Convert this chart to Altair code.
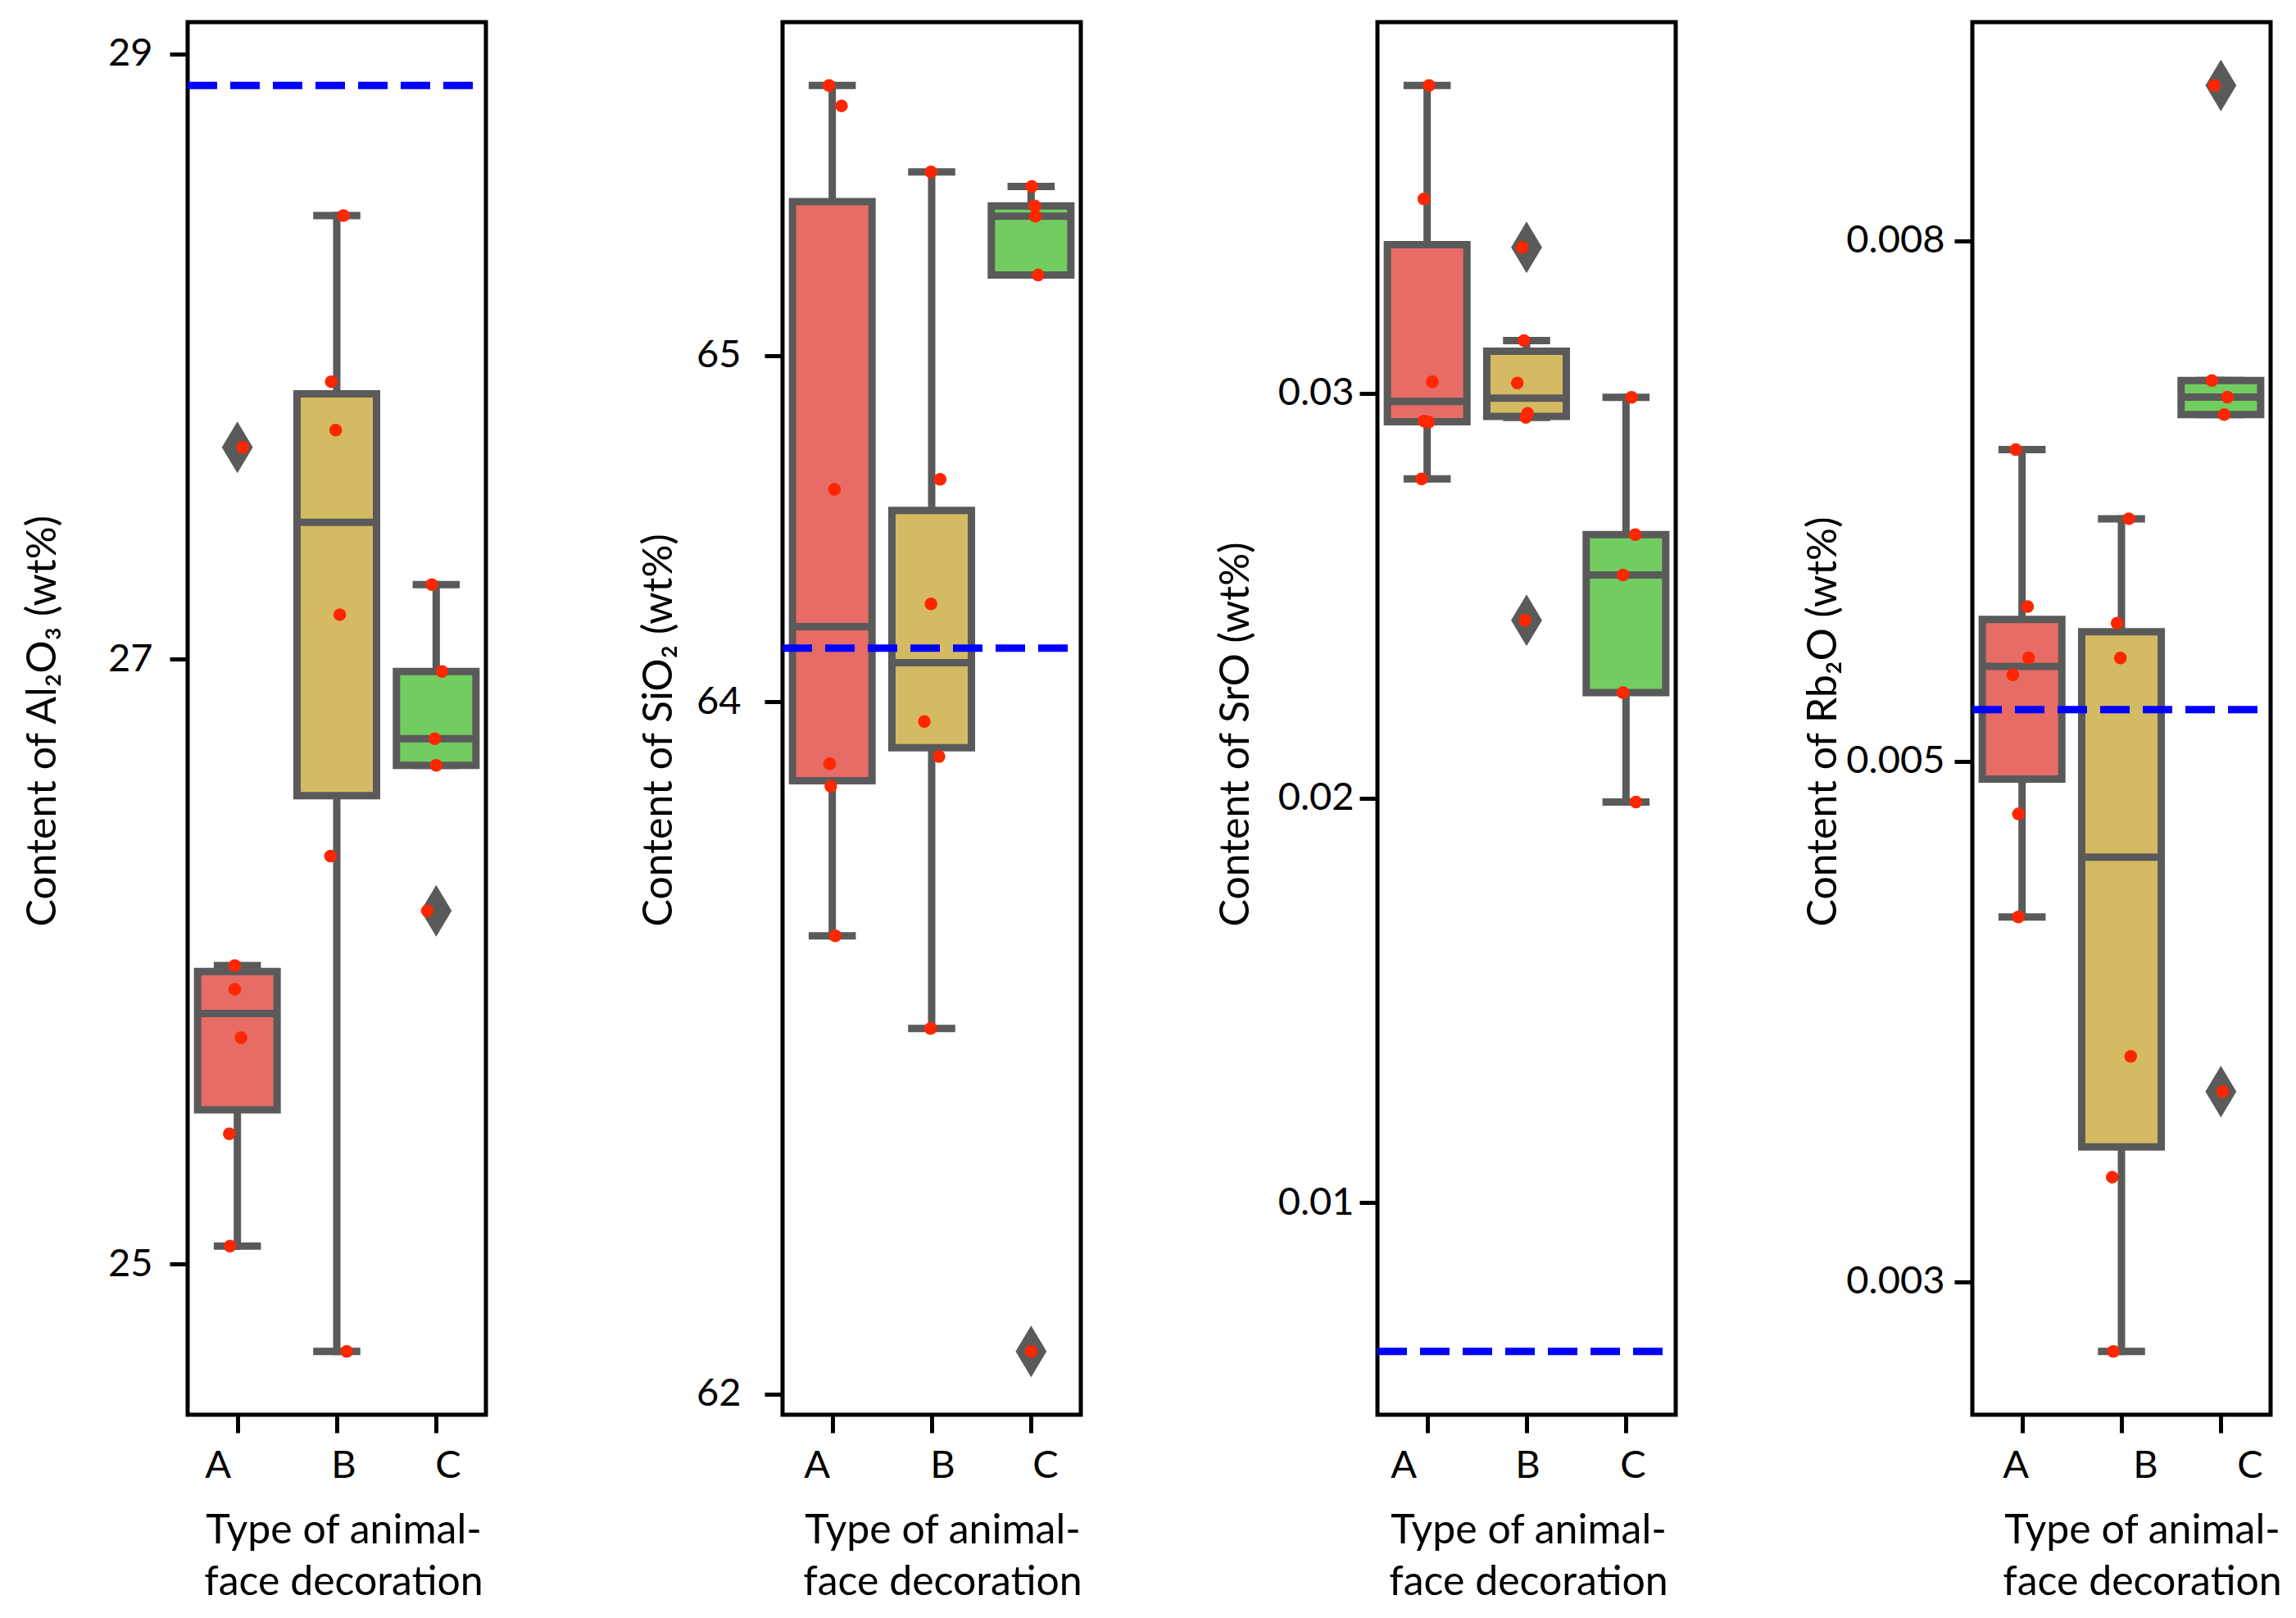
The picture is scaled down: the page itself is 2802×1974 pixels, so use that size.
import altair as alt
import pandas as pd

# ---------------- data ----------------
groups = ["A", "B", "C"]
fill_colors = ["#e66c65", "#d4ba62", "#72cd60"]

# Al2O3
al2o3_A = [27.70, 25.987, 25.909, 25.749, 25.431, 25.060]
al2o3_B = [28.466, 27.917, 27.757, 27.147, 26.349, 24.712]
al2o3_C = [27.246, 26.959, 26.737, 26.649, 26.168]
al2o3_ref = 28.896
# SiO2
sio2_A = [65.781, 65.722, 64.614, 63.821, 63.756, 63.324]
sio2_B = [65.531, 64.643, 64.283, 63.943, 63.842, 63.056]
sio2_C = [65.489, 65.433, 65.403, 65.233, 62.123]
sio2_ref = 64.155
# SrO
sro_A = [0.037602, 0.034796, 0.030281, 0.029311, 0.029286, 0.027883]
sro_B = [0.0336, 0.0313, 0.03025, 0.0295, 0.0294, 0.024388]
sro_C = [0.029898, 0.026505, 0.02551, 0.022602, 0.019898]
sro_ref = 0.006327
# Rb2O
rb2o_A = [0.006497, 0.005743, 0.005496, 0.005416, 0.004747, 0.004252]
rb2o_B = [0.006165, 0.005664, 0.005496, 0.003583, 0.003003, 0.002166]
rb2o_C = [0.008246, 0.006829, 0.006749, 0.006665, 0.003414]
rb2o_ref = 0.005248

# strip-plot jitter (fraction of category step)
al2o3_jit = {"A": [0.056, -0.026, -0.026, 0.037, -0.081, -0.074],
             "B": [0.067, -0.056, -0.011, 0.030, -0.063, 0.100],
             "C": [-0.044, 0.059, -0.015, 0.0, -0.089]}
sio2_jit = {"A": [-0.033, 0.093, 0.022, -0.026, -0.015, 0.030],
            "B": [-0.007, 0.085, -0.007, -0.074, 0.074, -0.011],
            "C": [0.007, 0.037, 0.044, 0.070, 0.0]}
sro_jit = {"A": [0.019, -0.033, 0.052, -0.030, 0.015, -0.056],
           "B": [-0.044, -0.026, -0.093, 0.011, -0.007, -0.015],
           "C": [0.056, 0.093, -0.030, -0.030, 0.100]}
rb2o_jit = {"A": [-0.063, 0.056, 0.067, -0.093, -0.037, -0.037],
            "B": [0.074, -0.044, -0.011, 0.093, -0.093, -0.081],
            "C": [-0.066, -0.091, 0.066, 0.033, 0.019]}

y_titles = ["Content of Al\u2082O\u2083 (wt%)", "Content of SiO\u2082 (wt%)",
            "Content of SrO (wt%)", "Content of Rb\u2082O (wt%)"]
x_title = ["Type of animal-", "face decoration"]

al2o3_ticks, al2o3_labels = [25, 27, 29], ["25", "27", "29"]
sio2_ticks, sio2_labels = [62, 64, 65], ["62", "64", "65"]
sro_ticks, sro_labels = [0.01, 0.02, 0.03], ["0.01", "0.02", "0.03"]
rb2o_ticks, rb2o_labels = [0.0025, 0.005, 0.0075], ["0.003", "0.005", "0.008"]

# ---------------- style ----------------
GRAY = "#5a5a5a"
RED = "#ff2600"
BLUE = "#0000ff"
FONT = "Lato"
FS = 47
TFS = 50
W, H = 364, 1699
LW = 9
DIAMOND = "M0,-1L0.6,0L0,1L-0.6,0Z"


def label_expr(ticks, labels):
    expr = "''"
    for t, l in zip(reversed(ticks), reversed(labels)):
        expr = f"abs(datum.value - {t}) < {abs(t) * 1e-6 + 1e-12} ? '{l}' : ({expr})"
    return expr


def make_panel(vals, jit, ref, ytitle, ticks, labels, ylab_pad, ytitle_x, xtitle_x, xlab_offsets):
    rows = []
    for i, g in enumerate(groups):
        for v, j in zip(vals[g], jit[g]):
            rows.append({"group": g, "idx": i, "value": v, "jit": j})
    df = pd.DataFrame(rows)
    allv = list(df["value"]) + [ref]
    lo, hi = min(allv), max(allv)
    pad = 0.05 * (hi - lo)
    yscale = alt.Scale(domain=[lo - pad, hi + pad], nice=False, zero=False)
    xscale = alt.Scale(domain=[-0.5, 2.5], nice=False, zero=False)

    xlab = " : ".join([f"datum.value == {i} ? '{g}'" for i, g in enumerate(groups[:-1])]) + f" : '{groups[-1]}'"
    xaxis = alt.Axis(
        values=[0, 1, 2], labelExpr=xlab, title=x_title, grid=False, domain=False,
        tickSize=22, tickWidth=5, tickColor="black",
        labelBaseline="alphabetic", labelPadding=54, labelAlign="center",
        labelOffset={"condition": [{"test": "datum.value == 0", "value": xlab_offsets[0]},
                                   {"test": "datum.value == 1", "value": xlab_offsets[1]}],
                     "value": xlab_offsets[2]},
        titleX=xtitle_x, titleY=156, titleAlign="center", titleBaseline="alphabetic",
        titleLineHeight=63, titleFontSize=TFS,
    )
    yaxis = alt.Axis(
        values=ticks, labelExpr=label_expr(ticks, labels), title=ytitle, grid=False, domain=False,
        tickSize=22, tickWidth=5, tickColor="black", labelPadding=ylab_pad,
        titleAngle=270, titleAlign="left", titleBaseline="middle",
        titleX=ytitle_x, titleY=1103, titleFontSize=TFS,
    )

    def X(f):
        return alt.X(f, type="quantitative", scale=xscale, axis=xaxis)

    def Y(f):
        return alt.Y(f, type="quantitative", scale=yscale, axis=yaxis)

    base = alt.Chart(df)
    stats = base.transform_joinaggregate(
        q1="q1(value)", q3="q3(value)", groupby=["group"]
    ).transform_calculate(
        lower="datum.q1 - 1.5*(datum.q3 - datum.q1)",
        upper="datum.q3 + 1.5*(datum.q3 - datum.q1)",
    )
    whisk = stats.transform_filter(
        "datum.value >= datum.lower && datum.value <= datum.upper"
    ).transform_aggregate(
        wmin="min(value)", wmax="max(value)", groupby=["group", "idx"]
    ).transform_calculate(c1="datum.idx - 0.2", c2="datum.idx + 0.2")

    whisker = whisk.mark_rule(color=GRAY, strokeWidth=LW, strokeCap="square").encode(
        x=X("idx"), y=Y("wmin"), y2="wmax")
    cap_lo = whisk.mark_rule(color=GRAY, strokeWidth=LW, strokeCap="square").encode(
        x=X("c1"), x2="c2", y=Y("wmin"))
    cap_hi = whisk.mark_rule(color=GRAY, strokeWidth=LW, strokeCap="square").encode(
        x=X("c1"), x2="c2", y=Y("wmax"))

    boxdata = base.transform_aggregate(
        q1="q1(value)", q3="q3(value)", med="median(value)", groupby=["group", "idx"]
    ).transform_calculate(b1="datum.idx - 0.4", b2="datum.idx + 0.4")
    box = boxdata.mark_rect(stroke=GRAY, strokeWidth=LW, opacity=1).encode(
        x=X("b1"), x2="b2", y=Y("q1"), y2="q3",
        fill=alt.Fill("group:N", scale=alt.Scale(domain=groups, range=fill_colors), legend=None))
    median = boxdata.mark_rule(color=GRAY, strokeWidth=LW).encode(
        x=X("b1"), x2="b2", y=Y("med"))

    ref_line = alt.Chart(pd.DataFrame({"ref": [ref]})).mark_rule(
        color=BLUE, strokeWidth=9, strokeDash=[36, 16]).encode(
        y=Y("ref"), x=alt.value(0), x2=alt.value(W))

    outliers = stats.transform_filter(
        "datum.value < datum.lower || datum.value > datum.upper"
    ).mark_point(shape=DIAMOND, size=3969, filled=True, color=GRAY, opacity=1).encode(
        x=X("idx"), y=Y("value"))

    points = base.transform_calculate(xj="datum.idx + datum.jit").mark_circle(
        color=RED, size=240, opacity=1).encode(x=X("xj"), y=Y("value"))

    return alt.layer(whisker, cap_lo, cap_hi, box, median, ref_line, outliers, points).properties(
        width=W, height=H)


p1 = make_panel({"A": al2o3_A, "B": al2o3_B, "C": al2o3_C}, al2o3_jit, al2o3_ref, y_titles[0],
                al2o3_ticks, al2o3_labels, 21, -177, 190, [-24, 8, 14])
p2 = make_panel({"A": sio2_A, "B": sio2_B, "C": sio2_C}, sio2_jit, sio2_ref, y_titles[1],
                sio2_ticks, sio2_labels, 29, -151, 195, [-19, 13, 17])
p3 = make_panel({"A": sro_A, "B": sro_B, "C": sro_C}, sro_jit, sro_ref, y_titles[2],
                sro_ticks, sro_labels, 7, -173, 184, [-29, 1, 8])
p4 = make_panel({"A": rb2o_A, "B": rb2o_B, "C": rb2o_C}, rb2o_jit, rb2o_ref, y_titles[3],
                rb2o_ticks, rb2o_labels, 12, -182, 207, [-8, 29, 35])

chart = alt.hconcat(p1, p2, p3, p4, spacing=362, bounds="flush").properties(
    padding={"left": 16, "top": 16, "right": 5, "bottom": 0},
    background="white",
).configure_view(
    stroke="black", strokeWidth=5
).configure_axis(
    labelFont=FONT, titleFont=FONT, labelFontSize=FS, titleFontSize=TFS,
    labelColor="black", titleColor="black", titleFontWeight="normal",
    labelFlush=False, labelOverlap=False,
)

chart.save("out.html", embed_options={"renderer": "svg", "actions": False})
